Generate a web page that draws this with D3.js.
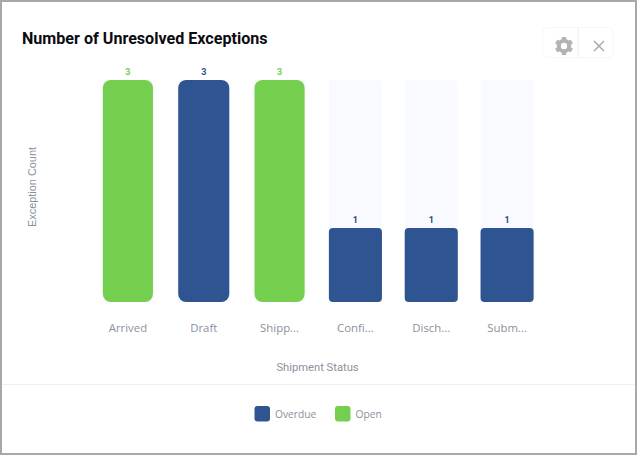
<!DOCTYPE html>
<html>
<head>
<meta charset="utf-8">
<script src="https://cdnjs.cloudflare.com/ajax/libs/d3/7.8.5/d3.min.js"></script>
<style>
  html, body { margin: 0; padding: 0; background: #fff; }
  svg { display: block; }
</style>
</head>
<body>
<svg id="chart" width="637" height="455"></svg>
<script>
const categories = ["Arrived", "Draft", "Shipp...", "Confi...", "Disch...", "Subm..."];
const overdue = [0, 3, 0, 1, 1, 1];
const open = [3, 0, 3, 0, 0, 0];
const seriesNames = ["Overdue", "Open"];
const seriesColors = ["#2e5592", "#75cf4e"];
const yDomain = [0, 3];

const svg = d3.select("#chart");
const rows = categories.map((c, i) => ({ category: c, Overdue: overdue[i], Open: open[i] }));

const xScale = d3.scaleBand().domain(categories).range([90, 545]).paddingInner(0.3).paddingOuter(0.15);
const yScale = d3.scaleLinear().domain(yDomain).range([302, 80]);
const color = d3.scaleOrdinal().domain(seriesNames).range(seriesColors);

// window frame
svg.append("rect")
  .attr("x", 1).attr("y", 1).attr("width", 635).attr("height", 453)
  .attr("fill", "#fff").attr("stroke", "#a8a8a8").attr("stroke-width", 2);

svg.append("text")
  .attr("x", 22).attr("y", 44)
  .attr("font-family", "Roboto").attr("font-weight", 700).attr("font-size", 16.1)
  .attr("fill", "#0b0b12")
  .text("Number of Unresolved Exceptions");

// background tracks
svg.append("g").selectAll("rect").data(categories).join("rect")
  .attr("x", d => xScale(d))
  .attr("y", yScale(yDomain[1]))
  .attr("width", xScale.bandwidth())
  .attr("height", yScale(0) - yScale(yDomain[1]))
  .attr("rx", 4)
  .attr("fill", "#f9faff");

// the full height bars come out a bit narrower and rounder than the short ones
const stacked = d3.stack().keys(seriesNames)(rows);
stacked.forEach(layer => {
  svg.append("g").selectAll("rect").data(layer.filter(d => d[1] > d[0])).join("rect")
    .attr("x", d => xScale(d.data.category) + (d[1] === yDomain[1] ? (layer.key === "Open" ? 1.5 : 1) : 0))
    .attr("y", d => yScale(d[1]))
    .attr("width", d => xScale.bandwidth() - (d[1] === yDomain[1] ? (layer.key === "Open" ? 3 : 2) : 0))
    .attr("height", d => yScale(d[0]) - yScale(d[1]))
    .attr("rx", d => d[1] === yDomain[1] ? 8 : 4)
    .attr("fill", color(layer.key));

  svg.append("g").selectAll("text").data(layer.filter(d => d[1] > d[0])).join("text")
    .attr("x", d => xScale(d.data.category) + xScale.bandwidth() / 2)
    .attr("y", d => yScale(d[1]) - 5)
    .attr("text-anchor", "middle")
    .attr("font-family", "Roboto").attr("font-weight", 700).attr("font-size", 9)
    .attr("fill", d => d[1] === yDomain[1] ? color(layer.key) : "#234a7c")
    .text(d => d[1] - d[0]);
});

// x axis, labels only
const xAxis = d3.axisBottom(xScale).tickSize(0).tickPadding(0);
const xAxisG = svg.append("g").attr("transform", "translate(0,324)").call(xAxis);
xAxisG.select(".domain").remove();
xAxisG.selectAll("text")
  .attr("font-family", "'Open Sans'").attr("font-size", 11.4).attr("fill", "#8b909c");

svg.append("text")
  .attr("x", 317.5).attr("y", 370.5)
  .attr("text-anchor", "middle")
  .attr("font-family", "Roboto").attr("font-size", 11.2).attr("fill", "#8b909c")
  .text("Shipment Status");

svg.append("text")
  .attr("transform", "translate(36,187) rotate(-90)")
  .attr("text-anchor", "middle")
  .attr("font-family", "'Liberation Sans'").attr("font-size", 10.9).attr("fill", "#8b909c")
  .text("Exception Count");

// divider above the legend
svg.append("line")
  .attr("x1", 2).attr("x2", 635).attr("y1", 384.5).attr("y2", 384.5)
  .attr("stroke", "#f0f0f2");

// legend
const legendX = d3.scaleOrdinal().domain(seriesNames).range([254.5, 335]);
const legend = svg.append("g").selectAll("g").data(seriesNames).join("g")
  .attr("transform", d => `translate(${legendX(d)},406)`);
legend.append("rect")
  .attr("width", 15.5).attr("height", 15.5).attr("rx", 3)
  .attr("fill", d => color(d));
legend.append("text")
  .attr("x", 20.5).attr("y", 12)
  .attr("font-family", "'Open Sans'").attr("font-size", 10.2).attr("fill", "#8b909c")
  .text(d => d);

// settings and close buttons
const buttons = svg.append("g");
buttons.append("rect")
  .attr("x", 543).attr("y", 27.5).attr("width", 70).attr("height", 30).attr("rx", 5)
  .attr("fill", "#fff").attr("stroke", "#f7f7fa");
buttons.append("line")
  .attr("x1", 578).attr("x2", 578).attr("y1", 27.5).attr("y2", 57.5)
  .attr("stroke", "#f3f3f6").attr("stroke-width", 1.5);

const gear = buttons.append("g").attr("transform", "translate(564,46)");
gear.append("circle").attr("r", 5.2).attr("fill", "none").attr("stroke", "#b3b3b3").attr("stroke-width", 4);
gear.selectAll("rect").data(d3.range(6)).join("rect")
  .attr("x", -2.2).attr("y", -9).attr("width", 4.4).attr("height", 4)
  .attr("fill", "#b3b3b3")
  .attr("transform", d => `rotate(${d * 60})`);

const closeIcon = buttons.append("g").attr("transform", "translate(599,46)")
  .attr("stroke", "#a9a9a9").attr("stroke-width", 1.5);
closeIcon.append("line").attr("x1", -5).attr("y1", -5).attr("x2", 5).attr("y2", 5);
closeIcon.append("line").attr("x1", -5).attr("y1", 5).attr("x2", 5).attr("y2", -5);
</script>
</body>
</html>
